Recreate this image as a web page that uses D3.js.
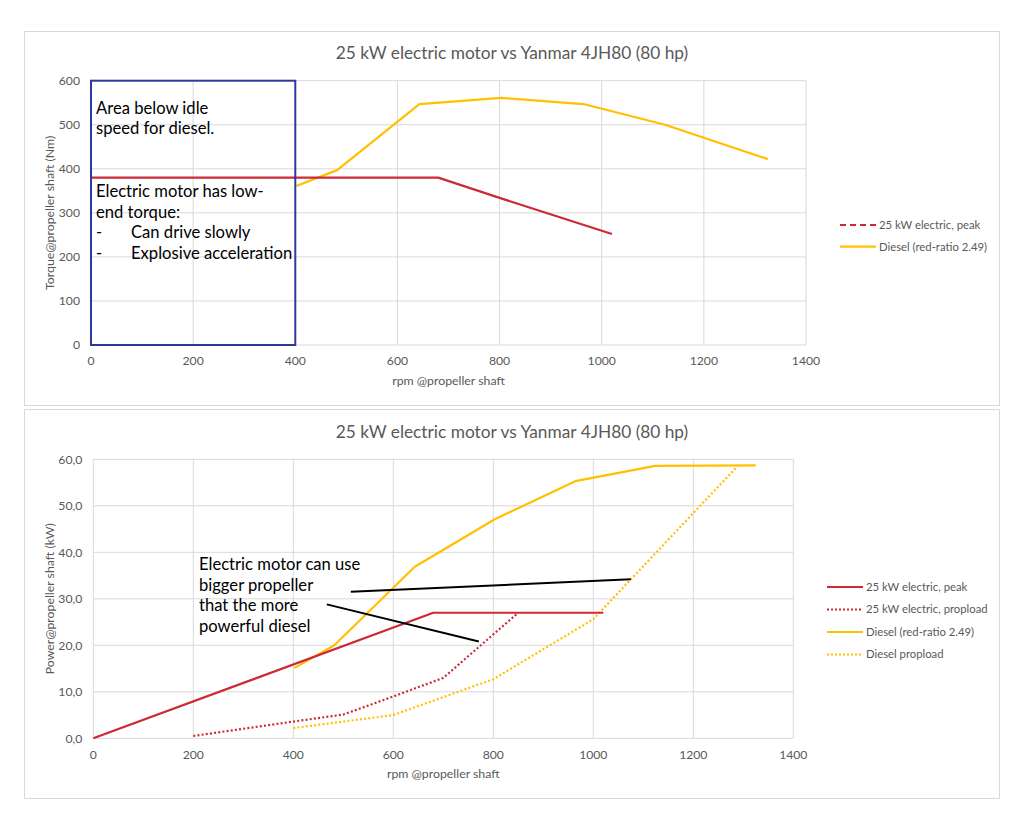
<!DOCTYPE html>
<html>
<head>
<meta charset="utf-8">
<script src="https://d3js.org/d3.v7.min.js"></script>
<style>
    body { margin:0; background:#fff; font-family: Lato, "Open Sans", sans-serif; }
    svg { display:block; }
    .grid line { stroke:#d9d9d9; stroke-width:1; }
    .tick-label { fill:#595959; font-size:12.2px; }
    .axis-title { fill:#595959; font-size:12.3px; }
    .chart-title { fill:#595959; font-size:17.3px; }
    .legend-text { fill:#595959; font-size:11.3px; }
    .note { fill:#000; font-size:16.6px; }
</style>
</head>
<body>
<svg width="1024" height="826"></svg>
<script>
// ---- data ----
const chartTitle = '25 kW electric motor vs Yanmar 4JH80 (80 hp)';
const xTitle = 'rpm @propeller shaft';
const xTicks = [0, 200, 400, 600, 800, 1000, 1200, 1400];

// torque chart (Nm)
const torqueTicks = [0, 100, 200, 300, 400, 500, 600];
const elecTorque = [[0, 380], [680, 380], [800, 334], [1020, 252]];
const dieselTorque = [[402, 361], [482, 397], [643, 547], [803, 561], [964, 547], [1124, 500], [1325, 422]];

// power chart (kW)
const powerTicks = [0, 10, 20, 30, 40, 50, 60];
const elecPeak = [[0, 0], [680, 27], [1020, 27]];
const elecProp = [[200, 0.5], [400, 3.6], [500, 5.1], [600, 9.0], [700, 13.0], [850, 27]];
const dieselPower = [[402, 15.1], [482, 20.0], [643, 36.9], [803, 47.1], [964, 55.3], [1124, 58.6], [1325, 58.7]];
const dieselProp = [[400, 2.2], [600, 5.0], [800, 12.7], [1000, 25.6], [1290, 58.7]];

// annotation arrows on power chart, in (rpm, kW)
const arrowLines = [
    [[515, 31.5], [1075, 34.2]],
    [[467, 28.8], [771, 20.8]]
];
const powerNote = ['Electric motor can use', 'bigger propeller', 'that the more', 'powerful diesel'];
const torqueNote1 = ['Area below idle', 'speed for diesel.'];
const torqueNote2 = ['Electric motor has low-', 'end torque:'];
const torqueBullets = ['Can drive slowly', 'Explosive acceleration'];
const idleRpm = 400;

const red = '#cc2a36', yellow = '#ffc000';

const svg = d3.select('svg');

function drawPanel(opt) {
    const g = svg.append('g');
    g.append('rect')
        .attr('x', opt.frame[0]).attr('y', opt.frame[1])
        .attr('width', opt.frame[2]).attr('height', opt.frame[3])
        .attr('fill', '#fff').attr('stroke', '#d9d9d9');

    const x = d3.scaleLinear().domain([0, 1400]).range(opt.xRange);
    const y = d3.scaleLinear().domain(opt.yDomain).range(opt.yRange);

    // gridlines
    const grid = g.append('g').attr('class', 'grid');
    grid.selectAll('.h').data(opt.yTicks).enter().append('line')
        .attr('x1', x(0)).attr('x2', x(1400))
        .attr('y1', d => y(d)).attr('y2', d => y(d));
    grid.selectAll('.v').data(xTicks).enter().append('line')
        .attr('x1', d => x(d)).attr('x2', d => x(d))
        .attr('y1', y(opt.yDomain[0])).attr('y2', y(opt.yDomain[1]));

    // tick labels
    g.selectAll('.yl').data(opt.yTicks).enter().append('text')
        .attr('class', 'tick-label')
        .attr('x', x(0) - 11).attr('y', d => y(d))
        .attr('dy', '0.35em').attr('text-anchor', 'end')
        .text(opt.yFormat);
    g.selectAll('.xl').data(xTicks).enter().append('text')
        .attr('class', 'tick-label')
        .attr('x', d => x(d)).attr('y', y(opt.yDomain[0]) + 16)
        .attr('dy', '0.35em').attr('text-anchor', 'middle')
        .text(d => d);

    // titles
    g.append('text').attr('class', 'chart-title')
        .attr('x', 512).attr('y', opt.titleY).attr('dy', '0.35em')
        .attr('text-anchor', 'middle').text(chartTitle);
    g.append('text').attr('class', 'axis-title')
        .attr('x', (x(0) + x(1400)) / 2).attr('y', opt.xTitleY).attr('dy', '0.35em')
        .attr('text-anchor', 'middle').text(xTitle);
    g.append('text').attr('class', 'axis-title')
        .attr('transform', `translate(50,${(y(opt.yDomain[0]) + y(opt.yDomain[1])) / 2}) rotate(-90)`)
        .attr('dy', '0.35em').attr('text-anchor', 'middle').text(opt.yTitle);

    const line = d3.line().x(d => x(d[0])).y(d => y(d[1]));
    opt.series.forEach(s => {
        g.append('path').datum(s.data)
            .attr('d', line).attr('fill', 'none')
            .attr('stroke', s.color).attr('stroke-width', 2.2)
            .attr('stroke-linejoin', 'round')
            .attr('stroke-dasharray', s.dotted ? '2,2.2' : null);
    });

    // legend
    opt.legend.forEach((s, i) => {
        const ly = opt.legendY + i * opt.legendGap;
        g.append('line')
            .attr('x1', opt.legendX).attr('x2', opt.legendX + 36)
            .attr('y1', ly).attr('y2', ly)
            .attr('stroke', s.color).attr('stroke-width', 2.2)
            .attr('stroke-dasharray', s.dash);
        g.append('text').attr('class', 'legend-text')
            .attr('x', opt.legendX + 39).attr('y', ly).attr('dy', '0.35em')
            .text(s.name);
    });
    return { g, x, y };
}

// ---- upper panel: torque ----
const torquePanel = drawPanel({
    frame: [24.5, 31.5, 975, 374],
    xRange: [91, 806], yRange: [345, 80.7], yDomain: [0, 600],
    yTicks: torqueTicks, yFormat: d => d,
    titleY: 53, xTitleY: 381,
    yTitle: 'Torque@propeller shaft (Nm)',
    series: [
        { data: dieselTorque, color: yellow },
        { data: elecTorque, color: red }
    ],
    legend: [
        { name: '25 kW electric, peak', color: red, dash: '6,4' },
        { name: 'Diesel (red-ratio 2.49)', color: yellow, dash: null }
    ],
    legendX: 840, legendY: 225, legendGap: 21.7
});

// idle-speed box and notes
torquePanel.g.append('rect')
    .attr('x', torquePanel.x(0)).attr('y', torquePanel.y(600))
    .attr('width', torquePanel.x(idleRpm) - torquePanel.x(0))
    .attr('height', torquePanel.y(0) - torquePanel.y(600))
    .attr('fill', 'none').attr('stroke', '#2e3a9a').attr('stroke-width', 2);
torqueNote1.forEach((t, i) => {
    torquePanel.g.append('text').attr('class', 'note')
        .attr('x', 96).attr('y', 107.7 + i * 20.7).attr('dy', '0.35em').text(t);
});
torqueNote2.forEach((t, i) => {
    torquePanel.g.append('text').attr('class', 'note')
        .attr('x', 96).attr('y', 191 + i * 20.7).attr('dy', '0.35em').text(t);
});
torqueBullets.forEach((t, i) => {
    const ty = 232.4 + i * 20.7;
    torquePanel.g.append('text').attr('class', 'note')
        .attr('x', 96).attr('y', ty).attr('dy', '0.35em').text('-');
    torquePanel.g.append('text').attr('class', 'note')
        .attr('x', 131).attr('y', ty).attr('dy', '0.35em').text(t);
});

// ---- lower panel: power ----
const fmtComma = d => d3.format('.1f')(d).replace('.', ',');
const powerPanel = drawPanel({
    frame: [24.5, 409.5, 975, 389],
    xRange: [93.3, 793.3], yRange: [738.3, 459.3], yDomain: [0, 60],
    yTicks: powerTicks, yFormat: fmtComma,
    titleY: 431.7, xTitleY: 774,
    yTitle: 'Power@propeller shaft (kW)',
    series: [
        { data: dieselProp, color: yellow, dotted: true },
        { data: dieselPower, color: yellow },
        { data: elecProp, color: red, dotted: true },
        { data: elecPeak, color: red }
    ],
    legend: [
        { name: '25 kW electric, peak', color: red, dash: null },
        { name: '25 kW electric, propload', color: red, dash: '2,2' },
        { name: 'Diesel (red-ratio 2.49)', color: yellow, dash: null },
        { name: 'Diesel propload', color: yellow, dash: '2,2' }
    ],
    legendX: 827, legendY: 587, legendGap: 22.5
});

powerPanel.g.selectAll('.arrow').data(arrowLines).enter().append('line')
    .attr('x1', d => powerPanel.x(d[0][0])).attr('y1', d => powerPanel.y(d[0][1]))
    .attr('x2', d => powerPanel.x(d[1][0])).attr('y2', d => powerPanel.y(d[1][1]))
    .attr('stroke', '#000').attr('stroke-width', 2);
powerNote.forEach((t, i) => {
    powerPanel.g.append('text').attr('class', 'note')
        .attr('x', 199).attr('y', 564 + i * 20.7).attr('dy', '0.35em').text(t);
});
</script>
</body>
</html>
